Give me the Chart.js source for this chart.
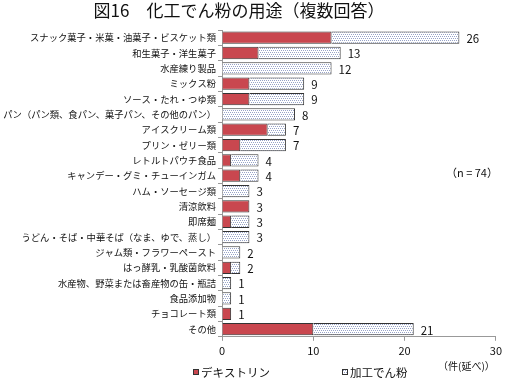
<!DOCTYPE html>
<html><head><meta charset="utf-8">
<script src="https://cdn.jsdelivr.net/npm/chart.js@4/dist/chart.umd.min.js"></script>
<style>html,body{margin:0;padding:0;background:#fff}#wrap{width:505px;height:382px;position:relative}</style>
</head><body><div id="wrap"><canvas id="c" width="505" height="382"></canvas></div>
<script>
const categories = ["スナック菓子・米菓・油菓子・ビスケット類","和生菓子・洋生菓子","水産練り製品","ミックス粉","ソース・たれ・つゆ類","パン（パン類、食パン、菓子パン、その他のパン）","アイスクリーム類","プリン・ゼリー類","レトルトパウチ食品","キャンデー・グミ・チューインガム","ハム・ソーセージ類","清涼飲料","即席麺","うどん・そば・中華そば（なま、ゆで、蒸し）","ジャム類・フラワーペースト","はっ酵乳・乳酸菌飲料","水産物、野菜または畜産物の缶・瓶詰","食品添加物","チョコレート類","その他"];
const dextrin = [12,4,0,3,3,0,5,2,1,2,0,3,1,0,0,1,0,0,1,10];
const modStarch = [14,9,12,6,6,8,2,5,3,2,3,0,2,3,2,1,1,1,0,11];
const totals = [26,13,12,9,9,8,7,7,4,4,3,3,3,3,2,2,1,1,1,21];
const seriesNames = ["デキストリン","加工でん粉"];
const xTicks = [0,10,20,30];
const titleText = "図16　化工でん粉の用途（複数回答）";
const noteText = "（n = 74）";
const unitText = "（件(延べ)）";

const JP = '"Noto Sans CJK JP","Noto Sans",sans-serif';

function makePattern(){
  const p = document.createElement('canvas'); p.width = 4; p.height = 4;
  const g = p.getContext('2d');
  g.fillStyle = '#ffffff'; g.fillRect(0,0,4,4);
  g.fillStyle = '#97a3c8';
  g.fillRect(0,0,1,1); g.fillRect(2,0,1,1); g.fillRect(1,2,1,1); g.fillRect(3,2,1,1);
  return document.getElementById('c').getContext('2d').createPattern(p,'repeat');
}
const pat = makePattern();
const red = '#c9474f';

const extras = {
  id:'extras',
  afterDatasetsDraw(chart){
    const ctx = chart.ctx;
    ctx.save();
    const meta = chart.getDatasetMeta(1);
    ctx.fillStyle = '#111';
    ctx.font = '11.5px ' + JP;
    ctx.textAlign = 'left'; ctx.textBaseline = 'middle';
    meta.data.forEach((el,i)=>{ ctx.fillText(String(totals[i]), el.x + 7, el.y + 1); });
    ctx.font = '17px ' + JP;
    ctx.textAlign = 'center';
    ctx.fillText(titleText, 239, 11);
    ctx.font = '11px ' + JP;
    ctx.textAlign = 'left';
    ctx.fillText(noteText, 446, 173);
    ctx.font = '10px ' + JP;
    ctx.fillText(unitText, 438, 366);
    const items = [{x:193,fill:red,text:seriesNames[0]},{x:342,fill:pat,text:seriesNames[1]}];
    ctx.font = '11.5px ' + JP;
    items.forEach(it=>{
      ctx.fillStyle = it.fill; ctx.fillRect(it.x, 369, 6, 6);
      ctx.strokeStyle = '#333'; ctx.lineWidth = 1; ctx.strokeRect(it.x+0.5, 369.5, 5, 5);
      ctx.fillStyle = '#111'; ctx.fillText(it.text, it.x + 8, 373);
    });
    ctx.restore();
  }
};

new Chart(document.getElementById('c'), {
  type:'bar',
  data:{
    labels: categories,
    datasets:[
      {label:seriesNames[0], data:dextrin, backgroundColor:red, borderColor:'#333', borderWidth:1, barPercentage:0.8, categoryPercentage:1},
      {label:seriesNames[1], data:modStarch, backgroundColor:pat, borderColor:'#333', borderWidth:1, barPercentage:0.8, categoryPercentage:1}
    ]
  },
  options:{
    indexAxis:'y',
    responsive:false,
    animation:false,
    devicePixelRatio:1,
    layout:{padding:{top:30, right:6, bottom:22, left:0}},
    plugins:{legend:{display:false}, title:{display:false}, tooltip:{enabled:false}},
    scales:{
      x:{
        stacked:true, min:0, max:30,
        afterBuildTicks(s){ s.ticks = xTicks.map(v=>({value:v})); },
        grid:{drawOnChartArea:false, drawTicks:true, tickLength:4, color:'#999'},
        border:{color:'#999'},
        ticks:{color:'#111', font:{family:JP, size:11}, padding:3}
      },
      y:{
        stacked:true,
        afterFit(s){ s.width = 222; },
        grid:{drawOnChartArea:false, drawTicks:true, tickLength:4, color:'#999', offset:true},
        border:{color:'#999'},
        ticks:{color:'#111', font:{family:JP, size:9.3}, padding:2, autoSkip:false}
      }
    }
  },
  plugins:[extras]
});
</script></body></html>
